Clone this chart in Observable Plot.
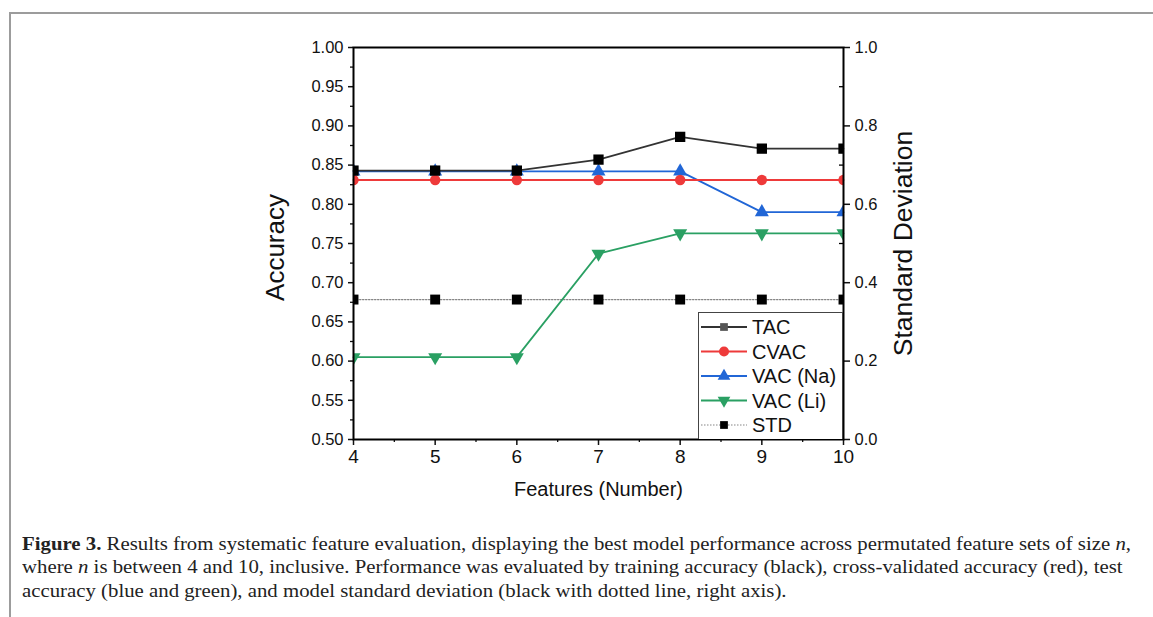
<!DOCTYPE html>
<html>
<head>
<meta charset="utf-8">
<script src="https://cdn.jsdelivr.net/npm/d3@7"></script>
<script src="https://cdn.jsdelivr.net/npm/@observablehq/plot@0.6"></script>
<style>
  html, body { margin: 0; padding: 0; background: #fff; }
  #wrap { position: relative; width: 1153px; height: 617px; overflow: hidden; background: #fff; }
  #border { position: absolute; left: 9px; top: 12px; width: 1160px; height: 620px;
            border-top: 2px solid #9c9c9c; border-left: 2px solid #9c9c9c; box-sizing: border-box; }
  #chart { position: absolute; left: 0; top: 0; }
  #legend { position: absolute; left: 698px; top: 312px; }
  #caption { position: absolute; left: 22px; top: 533px; font-family: "Liberation Serif", "DejaVu Serif", serif;
             font-size: 18.5px; line-height: 23.3px; color: #222; white-space: nowrap; transform-origin: 0 0; }
  #caption b { font-weight: bold; }
  #caption span.l { display: inline-block; }
</style>
</head>
<body>
<div id="wrap">
  <div id="border"></div>
  <div id="chart"></div>
  <div id="legend"></div>
  <div id="caption">
    <div><span class="l" id="cap1"><b>Figure 3.</b> Results from systematic feature evaluation, displaying the best model performance across permutated feature sets of size <i>n</i>,</span></div>
    <div><span class="l" id="cap2">where <i>n</i> is between 4 and 10, inclusive. Performance was evaluated by training accuracy (black), cross-validated accuracy (red), test</span></div>
    <div><span class="l" id="cap3">accuracy (blue and green), and model standard deviation (black with dotted line, right axis).</span></div>
  </div>
</div>
<script>
// ---- data ----
const features = [4, 5, 6, 7, 8, 9, 10];
const tac   = [0.843, 0.843, 0.843, 0.857, 0.886, 0.871, 0.871];
const cvac  = [0.831, 0.831, 0.831, 0.831, 0.831, 0.831, 0.831];
const vacNa = [0.842, 0.842, 0.842, 0.842, 0.842, 0.790, 0.790];
const vacLi = [0.605, 0.605, 0.605, 0.737, 0.763, 0.763, 0.763];
const std   = [0.357, 0.357, 0.357, 0.357, 0.357, 0.357, 0.357];

const accTicks = [0.50, 0.55, 0.60, 0.65, 0.70, 0.75, 0.80, 0.85, 0.90, 0.95, 1.00];
const accMinor = [0.525, 0.575, 0.625, 0.675, 0.725, 0.775, 0.825, 0.875, 0.925, 0.975];
const stdTicks = [0.0, 0.2, 0.4, 0.6, 0.8, 1.0];
const stdMinor = [0.1, 0.3, 0.5, 0.7, 0.9];
const featMinor = [4.5, 5.5, 6.5, 7.5, 8.5, 9.5];

const xTitle = "Features (Number)";
const yTitle = "Accuracy";
const y2Title = "Standard Deviation";

// right axis (std 0..1) mapped onto the accuracy scale (0.5..1)
const stdToAcc = s => 0.5 + s * 0.5;

const colors = { TAC: "#333333", CVAC: "#ee3a3a", NA: "#2166d6", LI: "#2aa063", STD: "#858585" };

const rows = (vals, fn = v => v) => features.map((f, i) => ({ x: f, y: fn(vals[i]) }));
const dTac = rows(tac), dCv = rows(cvac), dNa = rows(vacNa), dLi = rows(vacLi), dStd = rows(std, stdToAcc);

const font = "Liberation Sans, Arial, sans-serif";
const W = 1153, H = 510, ML = 353, MR = 310, MT = 47, MB = 71;
const frameW = W - ML - MR, frameH = H - MT - MB;

const chart = Plot.plot({
  width: W,
  height: H,
  marginLeft: ML,
  marginRight: MR,
  marginTop: MT,
  marginBottom: MB,
  style: { fontFamily: font, fontSize: "16.5px", color: "#111", background: "transparent" },
  x: { domain: [4, 10] },
  y: { domain: [0.5, 1.0] },
  marks: [
    // series: STD (dotted)
    Plot.line(dStd, { x: "x", y: "y", stroke: colors.STD, strokeWidth: 1.2, strokeDasharray: "1.5,1.5" }),
    Plot.dot(dStd, { x: "x", y: "y", symbol: "square", r: 5.6, fill: "#000", clip: true }),
    // VAC (Li)
    Plot.line(dLi, { x: "x", y: "y", stroke: colors.LI, strokeWidth: 1.8 }),
    Plot.dot(dLi, { x: "x", y: "y", symbol: "triangle", rotate: 180, r: 5.2, fill: colors.LI, clip: true }),
    // VAC (Na)
    Plot.line(dNa, { x: "x", y: "y", stroke: colors.NA, strokeWidth: 1.8 }),
    Plot.dot(dNa, { x: "x", y: "y", symbol: "triangle", r: 5.2, fill: colors.NA, clip: true }),
    // CVAC
    Plot.line(dCv, { x: "x", y: "y", stroke: colors.CVAC, strokeWidth: 1.8 }),
    Plot.dot(dCv, { x: "x", y: "y", symbol: "circle", r: 5.2, fill: colors.CVAC, clip: true }),
    // TAC
    Plot.line(dTac, { x: "x", y: "y", stroke: colors.TAC, strokeWidth: 1.6 }),
    Plot.dot(dTac, { x: "x", y: "y", symbol: "square", r: 5.8, fill: "#000", clip: true }),

    // axes
    Plot.axisX({ ticks: features, tickSize: 6, tickPadding: 4, tickFormat: d3.format("d"), strokeWidth: 1.5,
                 fontSize: 19, label: null }),
    Plot.axisX({ ticks: featMinor, tickSize: 3, text: null, label: null, strokeWidth: 1.3 }),
    Plot.axisY({ anchor: "left", ticks: accTicks, tickSize: 5, tickPadding: 5, tickFormat: d3.format(".2f"),
                 strokeWidth: 1.5, fontSize: 16.5, label: null }),
    Plot.axisY({ anchor: "left", ticks: accMinor, tickSize: 3, text: null, label: null, strokeWidth: 1.3 }),
    Plot.axisY({ anchor: "right", ticks: stdTicks.map(stdToAcc), tickSize: 6, tickPadding: 5,
                 tickFormat: d => ((d - 0.5) * 2).toFixed(1), strokeWidth: 1.5, fontSize: 16.5, label: null }),
    // right-axis minor ticks point inward
    Plot.tickY(stdMinor.map(stdToAcc), { y: d => d, insetLeft: frameW - 4, stroke: "#000", strokeWidth: 1.3 }),
    Plot.frame({ stroke: "#000", strokeWidth: 2 }),

    // axis titles
    Plot.text([xTitle], { text: d => d, frameAnchor: "bottom", dy: 56, fontSize: 20, fill: "#111" }),
    Plot.text([yTitle], { text: d => d, frameAnchor: "left", textAnchor: "middle", dx: -78, dy: 4, rotate: -90, fontSize: 26, fill: "#111" }),
    Plot.text([y2Title], { text: d => d, frameAnchor: "right", textAnchor: "middle", dx: 60, rotate: -90, fontSize: 26.5, fill: "#111" })
  ]
});
document.getElementById("chart").appendChild(chart);

// ---- legend ----
const legendItems = [
  { label: "TAC", color: colors.TAC, symbol: d3.symbolSquare, size: 60, fill: "#555", dash: null },
  { label: "CVAC", color: colors.CVAC, symbol: d3.symbolCircle, size: 80, fill: colors.CVAC, dash: null },
  { label: "VAC (Na)", color: colors.NA, symbol: d3.symbolTriangle, size: 70, fill: colors.NA, dash: null },
  { label: "VAC (Li)", color: colors.LI, symbol: d3.symbolTriangle, size: 70, fill: colors.LI, dash: null, rot: 180 },
  { label: "STD", color: colors.STD, symbol: d3.symbolSquare, size: 60, fill: "#000", dash: "1.5,1.5" }
];
const lw = 145, lh = 127;
const lsvg = d3.select("#legend").append("svg").attr("width", lw).attr("height", lh);
lsvg.append("rect").attr("x", 0.5).attr("y", 0.5).attr("width", lw - 1).attr("height", lh)
  .attr("fill", "#fff").attr("stroke", "#444").attr("stroke-width", 1);
legendItems.forEach((it, i) => {
  const y = 15 + i * 24.5;
  const g = lsvg.append("g");
  g.append("line").attr("x1", 3).attr("x2", 49).attr("y1", y).attr("y2", y)
    .attr("stroke", it.color).attr("stroke-width", it.dash ? 1.2 : 1.8).attr("stroke-dasharray", it.dash);
  g.append("path").attr("d", d3.symbol(it.symbol, it.size)())
    .attr("transform", `translate(26,${y}) rotate(${it.rot || 0})`).attr("fill", it.fill);
  g.append("text").attr("x", 54).attr("y", y).attr("dy", "0.36em").text(it.label)
    .attr("font-family", font).attr("font-size", 20).attr("fill", "#111");
});

// ---- caption: stretch horizontally so the first line matches the reference width ----
const cap1 = document.getElementById("cap1");
const w0 = cap1.getBoundingClientRect().width;
const k = 1109 / w0;
document.getElementById("caption").style.transform = `scaleX(${k.toFixed(4)})`;
</script>
</body>
</html>
